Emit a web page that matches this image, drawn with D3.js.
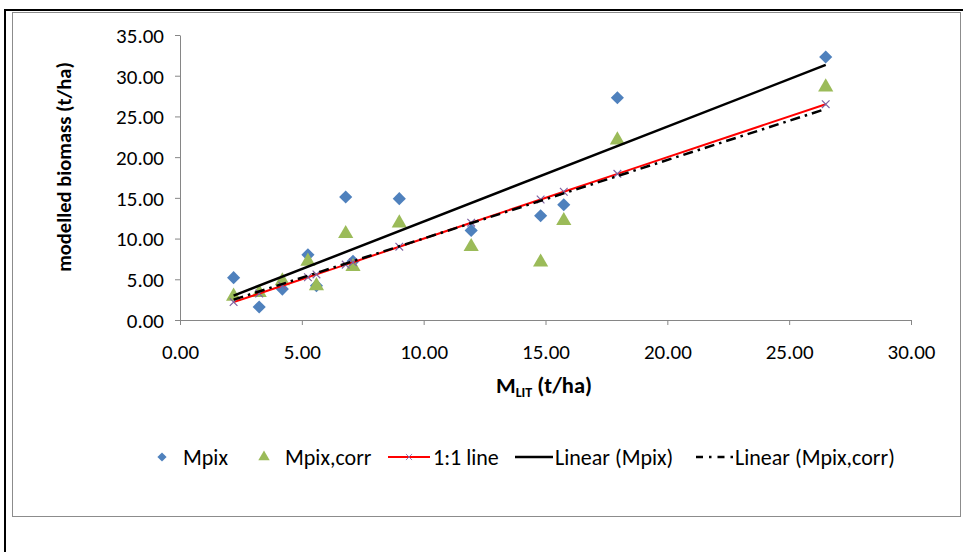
<!DOCTYPE html>
<html>
<head>
<meta charset="utf-8">
<script src="https://cdn.jsdelivr.net/npm/d3@7"></script>
<style>
  html, body { margin: 0; padding: 0; background: #fff; }
  svg { display: block; }
  text { font-family: Carlito, Calibri, Lato, "Open Sans", sans-serif; fill: #000; }
</style>
</head>
<body>
<svg id="chart" width="963" height="552"></svg>
<script>
// ---- data ----
const mLit    = [2.2, 3.25, 4.2, 5.25, 5.6, 6.8, 7.1, 9.0, 11.95, 14.8, 15.75, 17.95, 26.5];
const mPix    = [5.2, 1.6, 3.8, 8.0, 4.2, 15.1, 7.2, 14.9, 11.0, 12.8, 14.15, 27.3, 32.3];
const mPixCorr= [2.9, 3.35, 4.8, 7.2, 4.2, 10.6, 6.55, 11.9, 9.0, 7.1, 12.2, 22.1, 28.6];
const xTicks  = [0, 5, 10, 15, 20, 25, 30];
const yTicks  = [0, 5, 10, 15, 20, 25, 30, 35];
const legendLabels = ["Mpix", "Mpix,corr", "1:1 line", "Linear (Mpix)", "Linear (Mpix,corr)"];

const colors = { pix: "#4F81BD", corr: "#9BBB59", cross: "#8064A2", one: "#FF0000", axis: "#868686" };

// least-squares fit
function linfit(xs, ys) {
  const n = xs.length, mx = d3.mean(xs), my = d3.mean(ys);
  let sxy = 0, sxx = 0;
  for (let i = 0; i < n; i++) { sxy += (xs[i]-mx)*(ys[i]-my); sxx += (xs[i]-mx)**2; }
  const b = sxy / sxx; return { b, a: my - b*mx };
}

const svg = d3.select("#chart");

// outer frames
svg.append("line").attr("x1", 4).attr("x2", 963).attr("y1", 10).attr("y2", 10).attr("stroke", "#000").attr("stroke-width", 2);
svg.append("line").attr("x1", 5).attr("x2", 5).attr("y1", 9).attr("y2", 552).attr("stroke", "#000").attr("stroke-width", 2);
svg.append("rect").attr("x", 12.5).attr("y", 12.5).attr("width", 948).attr("height", 504)
  .attr("fill", "#fff").attr("stroke", "#8c8c8c").attr("stroke-width", 1);

const x = d3.scaleLinear().domain([0, 30]).range([180, 911]);
const y = d3.scaleLinear().domain([0, 35]).range([320, 35]);

// axes
const xAxis = d3.axisBottom(x).tickValues(xTicks).tickFormat(d3.format(".2f")).tickSize(5).tickSizeOuter(0);
const yAxis = d3.axisLeft(y).tickValues(yTicks).tickFormat(d3.format(".2f")).tickSize(5).tickSizeOuter(0);

const gx = svg.append("g").attr("transform", `translate(0,${y(0)})`).call(xAxis);
const gy = svg.append("g").attr("transform", `translate(${x(0)},0)`).call(yAxis);
[gx, gy].forEach(g => {
  g.select(".domain").attr("stroke", colors.axis).attr("stroke-width", 1);
  g.selectAll(".tick line").attr("stroke", colors.axis);
  g.selectAll(".tick text").style("font-size", "21px").attr("fill", "#000");
});
gx.selectAll(".tick text").attr("dy", "0").attr("y", 39);
gy.selectAll(".tick text").attr("x", -16).attr("dy", "0.35em");

// axis titles
const xt = svg.append("text").attr("x", 544).attr("y", 393).attr("text-anchor", "middle")
  .style("font-size", "22.5px").style("font-weight", "bold");
xt.append("tspan").text("M");
xt.append("tspan").text("LIT").style("font-size", "14px").attr("dy", 4);
xt.append("tspan").text(" (t/ha)").attr("dy", -4);

svg.append("text").attr("transform", "translate(71,167) rotate(-90)").attr("text-anchor", "middle")
  .style("font-size", "20.5px").style("font-weight", "bold").text("modelled biomass (t/ha)");

// markers
const diamond = d3.symbol().type(d3.symbolDiamond2).size(110);
const tri = d3.symbol().type(d3.symbolTriangle).size(100);
const cross = d3.symbol().type(d3.symbolX).size(40);

svg.append("g").selectAll("path").data(mLit).join("path")
  .attr("d", diamond).attr("fill", colors.pix)
  .attr("transform", (d, i) => `translate(${x(d)},${y(mPix[i])})`);
svg.append("g").selectAll("path").data(mLit).join("path")
  .attr("d", tri).attr("fill", colors.corr)
  .attr("transform", (d, i) => `translate(${x(d)},${y(mPixCorr[i])})`);

// 1:1 line
const line = d3.line().x(d => x(d[0])).y(d => y(d[1]));
svg.append("path").datum(mLit.map(v => [v, v])).attr("d", line)
  .attr("fill", "none").attr("stroke", colors.one).attr("stroke-width", 2);
svg.append("g").selectAll("path").data(mLit).join("path")
  .attr("d", cross).attr("fill", "none").attr("stroke", colors.cross).attr("stroke-width", 1.2)
  .attr("transform", d => `translate(${x(d)},${y(d)})`);

// trendlines
const xmin = d3.min(mLit), xmax = d3.max(mLit);
const f1 = linfit(mLit, mPix), f2 = linfit(mLit, mPixCorr);
svg.append("path").datum([[xmin, f1.a + f1.b*xmin], [xmax, f1.a + f1.b*xmax]]).attr("d", line)
  .attr("fill", "none").attr("stroke", "#000").attr("stroke-width", 2.5);
svg.append("path").datum([[xmin, f2.a + f2.b*xmin], [xmax, f2.a + f2.b*xmax]]).attr("d", line)
  .attr("fill", "none").attr("stroke", "#000").attr("stroke-width", 2.5).attr("stroke-dasharray", "10,5,2.5,5");

// legend
const ly = 457;
const lg = svg.append("g");
lg.append("path").attr("d", diamond).attr("fill", colors.pix).attr("transform", `translate(162,${ly}) scale(0.7)`);
lg.append("path").attr("d", tri).attr("fill", colors.corr).attr("transform", `translate(264,${ly}) scale(0.75)`);
lg.append("line").attr("x1", 388).attr("x2", 430).attr("y1", ly).attr("y2", ly).attr("stroke", colors.one).attr("stroke-width", 2);
lg.append("path").attr("d", cross).attr("fill", "none").attr("stroke", colors.cross).attr("stroke-width", 1)
  .attr("transform", `translate(409,${ly}) scale(0.8)`);
lg.append("line").attr("x1", 515).attr("x2", 553).attr("y1", ly).attr("y2", ly).attr("stroke", "#000").attr("stroke-width", 2.5);
lg.append("line").attr("x1", 696).attr("x2", 733).attr("y1", ly).attr("y2", ly).attr("stroke", "#000").attr("stroke-width", 2.5)
  .attr("stroke-dasharray", "7,6,2.5,6");
const lx = [183, 285, 433, 555, 735];
lg.selectAll("text").data(legendLabels).join("text")
  .attr("x", (d, i) => lx[i]).attr("y", ly).attr("dy", "0.35em").style("font-size", "22px").text(d => d);
</script>
</body>
</html>
